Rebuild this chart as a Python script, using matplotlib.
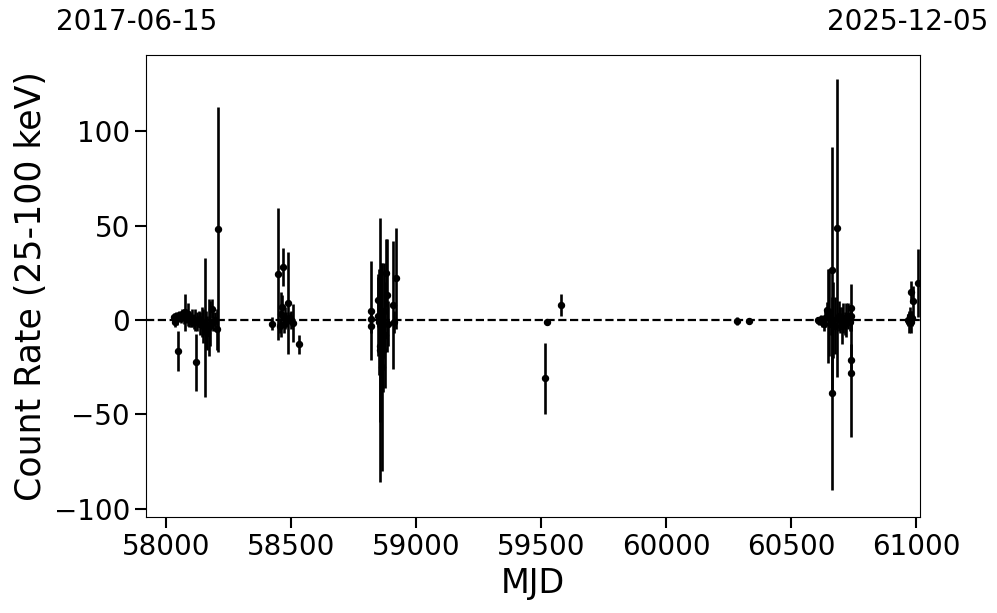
import numpy as np
import matplotlib
matplotlib.use("Agg")
import matplotlib.pyplot as plt

# light curve points (MJD, rate, 1-sigma error)
mjd = [
    # 2017-2018
    58032, 58036, 58040, 58045, 58048, 58052, 58058, 58064, 58070, 58075,
    58080, 58087, 58092, 58098, 58104, 58110, 58115, 58118, 58124, 58130,
    58136, 58142, 58148, 58155, 58160, 58165, 58170, 58176, 58182, 58188,
    58195, 58204, 58208,
    # late 2018
    58422, 58448, 58455, 58460, 58463, 58466, 58470, 58475, 58480, 58487,
    58493, 58500, 58508, 58532,
    # late 2019 - early 2020
    58818, 58819, 58820, 58845, 58848, 58851, 58854, 58856, 58859, 58862,
    58866, 58870, 58874, 58878, 58882, 58885, 58906, 58912, 58918,
    # 2021
    59514, 59521, 59578,
    # 2023
    60284, 60329,
    # 2024-2025
    60607, 60612, 60618, 60624, 60630, 60636, 60642, 60647, 60652, 60657,
    60662, 60664, 60668, 60675, 60684, 60690, 60696, 60702, 60708, 60714,
    60720, 60726, 60733, 60737, 60738, 60739, 60740,
    # late 2025
    60965, 60970, 60974, 60977, 60980, 60984, 60988, 61007,
]
rate = [
    1.5, -1, 2, 0.5, -16.5, 2.5, 1, 3, 2, 4,
    1.5, 3, 0.5, -0.5, 1, -1, 0, -22.5, -1, 0.5,
    -2, -1, -3, -4, -5, -7, -4, -2, 6, -1,
    0, -5, 48,
    -2, 24.5, -3, 3, 7, 28, -2, 1, 0, 9,
    1, 0, -1.5, -13,
    5, 0.5, -3, 10.5, 2, -1, -14, -16, 0, -25,
    -16, 5, -8, 25, 13, -2, 8, -1, 22,
    -31, -1, 8,
    -0.5, -0.5,
    0, -0.5, 0.5, -1, -2, 1, 5.5, 2, 4, -2,
    -39, 26.5, 0, -3, 49, 2, 0, -3, 1, -2,
    0, 2, -1, 6.5, 2, -21, -28,
    0, -1, 2, 14.8, -1, 1, 10, 19.7,
]
err = [
    2, 2.5, 2, 3, 10.5, 2, 2.5, 3, 4, 10,
    3, 6, 4, 3, 5, 4, 6, 15, 5, 4,
    6, 8, 9, 37, 10, 9, 15, 12, 5, 5,
    4, 11, 65,
    3.5, 35, 4, 12, 6, 10, 5, 6, 4, 27,
    3, 5, 10, 5,
    26, 3, 4, 14, 21, 28, 40, 70, 30, 55,
    22, 25, 28, 18, 30, 12, 34, 6, 27,
    19, 1.5, 6,
    2, 1.5,
    1.5, 2, 2, 3, 4, 5, 4, 25, 23, 6,
    51, 65, 20, 15, 79, 8, 7, 10, 8, 6,
    9, 7, 5, 12.5, 3, 8, 34,
    3, 6, 5, 6, 6, 4, 8, 18,
]

date_start = "2017-06-15"
date_end = "2025-12-05"
mjd_start, mjd_end = 57919, 61014

fig = plt.figure(figsize=(9.97, 6.13), dpi=100)
ax = fig.add_axes([0.1464, 0.1566, 0.7763, 0.7537])

ax.errorbar(mjd, rate, yerr=err, fmt='o', color='black', markersize=4.3,
            elinewidth=1.9, capsize=0)
ax.axhline(0, color='black', linestyle='--', linewidth=1.6)

ax.set_xlim(mjd_start, mjd_end)
ax.set_ylim(-104.5, 140.5)
ax.set_yticks([-100, -50, 0, 50, 100])
ax.set_xticks(np.arange(58000, 61001, 500))

ax.set_xlabel("MJD", fontsize=24)
ax.set_ylabel("Count Rate (25-100 keV)", fontsize=25)
ax.tick_params(axis='both', labelsize=20, length=8, width=1.5)

fig.text(136.5 / 997, 1 - 22 / 613, date_start, fontsize=20, ha='center', va='center')
fig.text(907.5 / 997, 1 - 22 / 613, date_end, fontsize=20, ha='center', va='center')

fig.savefig("out.png", dpi=100)
